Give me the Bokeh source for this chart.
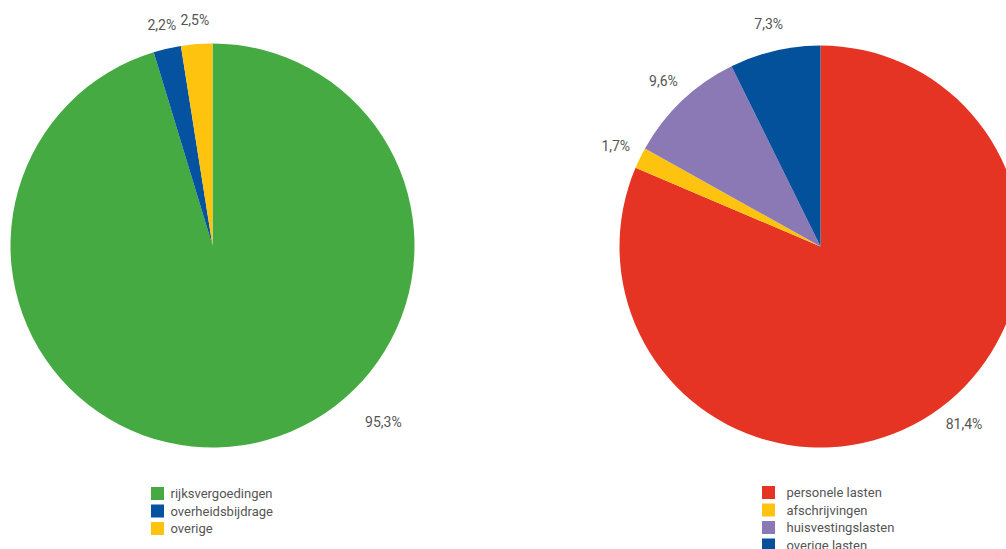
import math
from bokeh.plotting import figure
from bokeh.models import Range1d
from bokeh.core.properties import value
from bokeh.embed import file_html
from bokeh.resources import INLINE

# ---- data ----
income_labels = ["rijksvergoedingen", "overheidsbijdrage", "overige"]
income_values = [95.3, 2.2, 2.5]
income_colors = ["#45aa42", "#0452a0", "#fec30f"]

cost_labels = ["personele lasten", "afschrijvingen", "huisvestingslasten", "overige lasten"]
cost_values = [81.4, 1.7, 9.6, 7.3]
cost_colors = ["#e63424", "#fec30f", "#8b79b6", "#04519b"]

# ---- layout (pixel-like data space: x = screen_x, y = 549 - screen_y) ----
W, H = 1006, 549
p = figure(width=W, height=H, output_backend="svg", toolbar_location=None,
           x_range=Range1d(0, W), y_range=Range1d(0, H), min_border=0)
p.axis.visible = False
p.grid.visible = False
p.outline_line_color = None
p.background_fill_color = "white"
p.border_fill_color = "white"

FONT = value("Roboto")
TXT_COLOR = "#555555"


def fmt(v):
    return f"{v:.1f}".replace(".", ",") + "%"


def draw_pie(cx, cy, r, vals, colors, label_r, overrides):
    total = sum(vals)
    cum = 0.0
    lx, ly, lt = [], [], []
    starts, ends = [], []
    for i, v in enumerate(vals):
        a0 = math.pi / 2 - 2 * math.pi * cum / total
        cum += v
        a1 = math.pi / 2 - 2 * math.pi * cum / total
        starts.append(a0)
        ends.append(a1)
        mid = (a0 + a1) / 2
        rr = label_r
        if i in overrides:
            deg_cw, rr = overrides[i]
            mid = math.pi / 2 - math.radians(deg_cw)
        lx.append(cx + rr * math.cos(mid))
        ly.append(cy + rr * math.sin(mid))
        lt.append(fmt(v))
    p.wedge(x=[cx] * len(vals), y=[cy] * len(vals), radius=r, radius_units="screen",
            start_angle=starts, end_angle=ends, direction="clock",
            fill_color=colors, line_color=None)
    p.text(x=lx, y=ly, text=lt, text_font=FONT, text_font_size="14px",
           text_color=TXT_COLOR, text_align="center", text_baseline="middle")


def draw_legend(x0, xt, ytop, labels, colors, step=17.5):
    ys = [ytop - i * step for i in range(len(labels))]
    p.rect(x=[x0] * len(labels), y=ys, width=13, height=13,
           width_units="screen", height_units="screen",
           fill_color=colors, line_color=None)
    p.text(x=[xt] * len(labels), y=ys, text=labels, text_font=FONT,
           text_font_size="13px", text_color=TXT_COLOR,
           text_align="left", text_baseline="middle")


draw_pie(212, 304, 202, income_values, income_colors, 226, {0: (136, 246)})
draw_pie(820, 303, 201, cost_values, cost_colors, 228, {0: (141, 228)})

draw_legend(157, 170, 549 - 493, income_labels, income_colors)
draw_legend(768, 786, 549 - 492, cost_labels, cost_colors)

open("out.html", "w").write(file_html(p, INLINE))
